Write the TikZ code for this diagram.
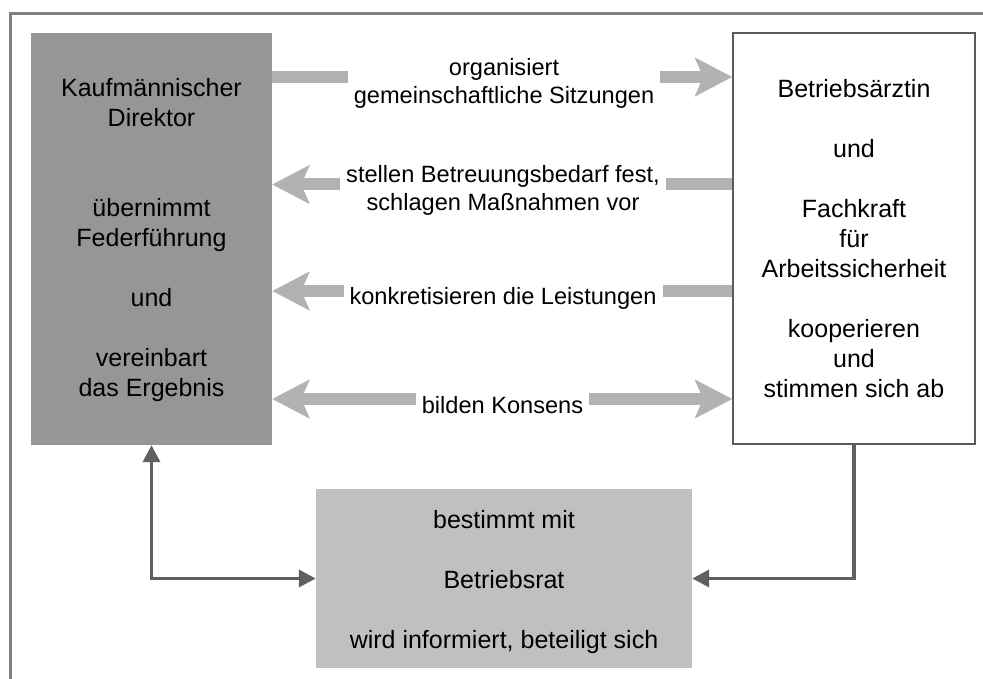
\documentclass[tikz,border=0pt]{standalone}
\usepackage{fontspec}
\setmainfont{Liberation Sans}
\usetikzlibrary{arrows.meta}
\definecolor{framecol}{HTML}{808080}
\definecolor{dirfill}{HTML}{969696}
\definecolor{ratfill}{HTML}{C0C0C0}
\definecolor{flowcol}{HTML}{B2B2B2}
\definecolor{linkcol}{HTML}{606060}
\definecolor{boxline}{HTML}{5A5A5A}
\begin{document}
\begin{tikzpicture}[x=1pt,y=-1pt,
  boxtext/.style={align=center, font=\fontsize{25}{30}\selectfont, inner sep=0pt, anchor=base},
  flowlabel/.style={align=center, font=\fontsize{23.6}{28}\selectfont, fill=white, inner xsep=6pt, inner ysep=5pt, anchor=base},
  flowarrow/.style={draw=flowcol, line width=12pt},
  bighead/.tip={Stealth[length=37pt,width=38pt,inset=8pt]},
  smallhead/.tip={Triangle[length=17pt,width=17pt]},
  linkline/.style={draw=linkcol, line width=3.5pt},
  framestyle/.style={draw=framecol, line width=3pt}
]
\useasboundingbox (0,0) rectangle (983,679);
\draw[framestyle] (10,695) -- (10,14) -- (995,14);

\node[fill=dirfill, minimum width=241pt, minimum height=412pt, inner sep=0pt] (lbox) at (151.5,239) {};
\node[draw=boxline, line width=1.5pt, fill=white, minimum width=242pt, minimum height=411pt, inner sep=0pt] (rbox) at (854,238.5) {};
\node[fill=ratfill, minimum width=376pt, minimum height=179pt, inner sep=0pt] (bbox) at (504,578.5) {};

% anchor=base is the baseline of the last line
\node[boxtext] (ltext) at (151.5,396) {Kaufmännischer\\Direktor\\[60pt]übernimmt\\Federführung\\[30pt]und\\[30pt]vereinbart\\das Ergebnis};
\node[boxtext] (rtext) at (854,397) {Betriebsärztin\\[30pt]und\\[30pt]Fachkraft\\für\\Arbeitssicherheit\\[30pt]kooperieren\\und\\stimmen sich ab};
\node[boxtext] (btext) at (504,648) {bestimmt mit\\[30pt]Betriebsrat\\[30pt]wird informiert, beteiligt sich};

\coordinate (y1) at (0,77);
\coordinate (y2) at (0,184.5);
\coordinate (y3) at (0,291);
\coordinate (y4) at (0,399);

\draw[flowarrow, -bighead] (lbox.east |- y1) -- (rbox.west |- y1);
\draw[flowarrow, -bighead] (rbox.west |- y2) -- (lbox.east |- y2);
\draw[flowarrow, -bighead] (rbox.west |- y3) -- (lbox.east |- y3);
\draw[flowarrow, bighead-bighead] (lbox.east |- y4) -- (rbox.west |- y4);

\node[flowlabel] (l1) at (504,104) {organisiert\\gemeinschaftliche Sitzungen};
\node[flowlabel] (l2) at (503,211) {stellen Betreuungsbedarf fest,\\schlagen Maßnahmen vor};
\node[flowlabel] (l3) at (503,305) {konkretisieren die Leistungen};
\node[flowlabel] (l4) at (502.5,413) {bilden Konsens};

\draw[linkline, smallhead-smallhead] (lbox.south) |- (bbox.west);
\draw[linkline, -smallhead] (rbox.south) |- (bbox.east);
\end{tikzpicture}
\end{document}
